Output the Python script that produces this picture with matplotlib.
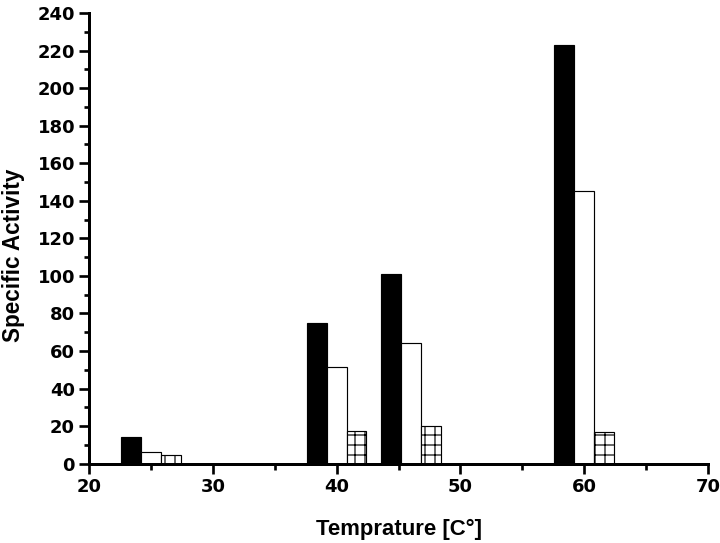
import matplotlib.pyplot as plt
from matplotlib.ticker import MultipleLocator

plt.rcParams['font.family'] = ['Liberation Sans', 'DejaVu Sans']
plt.rcParams['hatch.linewidth'] = 0.7

# --- Data ---
temps = [25, 40, 46, 60]
series_a = [14, 75, 101, 223]      # black
series_b = [6.5, 51.5, 64.5, 145]  # white
series_c = [4.5, 17.5, 20, 17]     # grid hatched

WIDTH = 1.6

# dpi 120 so the hatch grid comes out a bit coarser
fig = plt.figure(figsize=(6, 4.525), dpi=120)
ax = fig.add_axes([0.124, 0.146, 0.859, 0.830])

xa = [t - WIDTH for t in temps]
xc = [t + WIDTH for t in temps]
ax.bar(xa, series_a, width=WIDTH, color="black", edgecolor="black", linewidth=0.7)
ax.bar(temps, series_b, width=WIDTH, color="white", edgecolor="black", linewidth=0.7)
ax.bar(xc, series_c, width=WIDTH, color="white", edgecolor="black", linewidth=0.7, hatch="++")

ax.set_xlim(20, 70)
ax.set_ylim(0, 240)
ax.xaxis.set_major_locator(MultipleLocator(10))
ax.xaxis.set_minor_locator(MultipleLocator(5))
ax.yaxis.set_major_locator(MultipleLocator(20))
ax.yaxis.set_minor_locator(MultipleLocator(10))

for side in ["top", "right"]:
    ax.spines[side].set_visible(False)
for side in ["left", "bottom"]:
    ax.spines[side].set_linewidth(1.8)

ax.tick_params(which="major", direction="out", length=6, width=1.6, pad=2.5)
ax.tick_params(which="minor", direction="out", length=3.3, width=1.6)
for lbl in ax.get_xticklabels() + ax.get_yticklabels():
    lbl.set_fontweight("bold")
    lbl.set_fontfamily("DejaVu Sans")
    lbl.set_fontsize(10.8)

ax.set_xlabel("Temprature [C°]", fontsize=13.3, fontweight="bold", labelpad=14)
ax.set_ylabel("Specific Activity", fontsize=13.5, fontweight="bold", va="center")
ax.yaxis.set_label_coords(-0.123, 0.462)

fig.savefig("out.png", dpi=120)
